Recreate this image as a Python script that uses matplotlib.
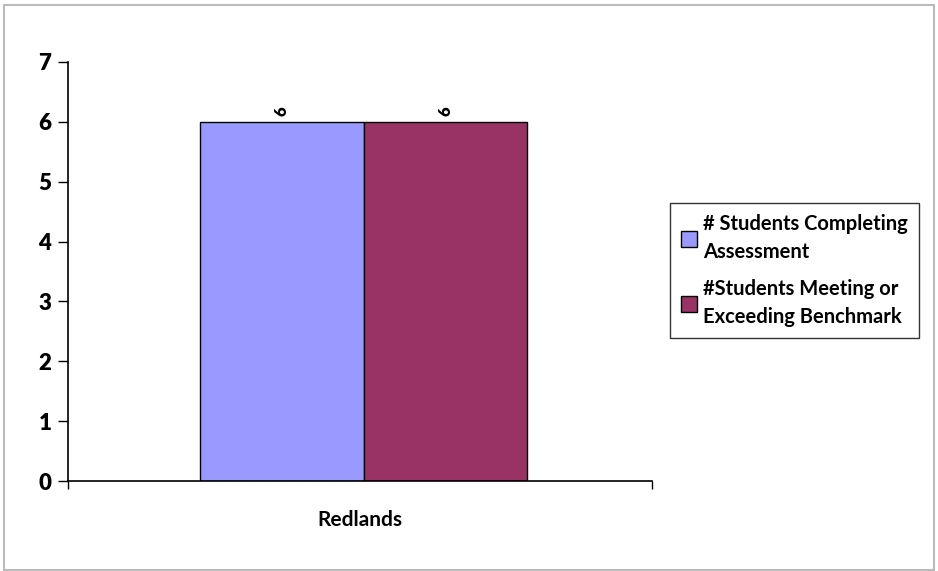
import matplotlib
matplotlib.use("Agg")
import matplotlib.pyplot as plt
from matplotlib.patches import Rectangle
import numpy as np

categories = ["Redlands"]
series_names = ["# Students Completing\nAssessment", "#Students Meeting or\nExceeding Benchmark"]
completing = [6]
meeting = [6]
colors = ["#9999FF", "#993366"]
yticks = [0, 1, 2, 3, 4, 5, 6, 7]

plt.rcParams['font.family'] = ['Lato', 'DejaVu Sans']

fig = plt.figure(figsize=(9.38, 5.71), dpi=100)
fig.patches.append(Rectangle((0.004, 0.002), 0.992, 0.99, transform=fig.transFigure,
                             fill=False, edgecolor="#BBBBBB", linewidth=1.5))

ax = fig.add_axes([68/938, (571-481)/571, (652-68)/938, (481-62)/571])
x = np.arange(len(categories))
w = 0.28
series = [completing, meeting]
for i, (vals, c) in enumerate(zip(series, colors)):
    bars = ax.bar(x + (i - 0.5) * w + 0.006, vals, w, color=c, edgecolor="black",
                  linewidth=1.0, label=series_names[i], zorder=2)
    for b, v in zip(bars, vals):
        ax.text(b.get_x() + b.get_width()/2, v + 0.1, f"{v}", rotation=90,
                ha="center", va="bottom", fontsize=12, fontweight="heavy")

ax.set_xlim(-0.5, 0.5)
ax.set_ylim(0, 7)
ax.set_yticks(yticks)
ax.set_yticklabels([str(t) for t in yticks])
for lbl in ax.get_yticklabels():
    lbl.set_fontsize(16)
    lbl.set_fontweight("heavy")
ax.set_xticks([-0.5, 0.5])
ax.set_xticklabels(["", ""])
ax.tick_params(axis="y", direction="out", length=7, width=1, pad=5)
ax.tick_params(axis="x", direction="out", length=6, width=1)
ax.text(0, -0.65, categories[0], ha="center", va="center", fontsize=15,
        fontweight="bold", transform=ax.transData)
for s in ["top", "right"]:
    ax.spines[s].set_visible(False)
ax.spines["left"].set_linewidth(1.2)
ax.spines["bottom"].set_linewidth(1.2)

leg = fig.legend(loc="upper left", bbox_to_anchor=(670/938, 1 - 203/571),
                 frameon=True, fancybox=False, edgecolor="black",
                 prop={"size": 14.5, "weight": "bold"}, handlelength=0.8,
                 handleheight=0.8, handletextpad=0.3, labelspacing=0.85,
                 borderpad=0.55, borderaxespad=0)
for t in leg.get_texts():
    t.set_linespacing(1.5)
leg.get_frame().set_linewidth(1.0)

fig.savefig("out.png", dpi=100)
